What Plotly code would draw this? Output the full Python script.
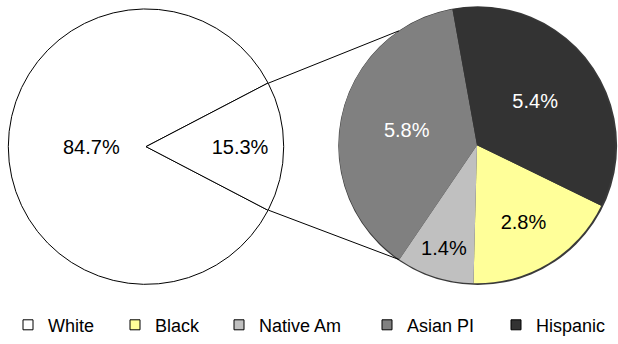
import math
import plotly.graph_objects as go

W, H = 618, 344

# ---- data ----
main_labels = ["White", "Other"]
main_values = [84.7, 15.3]
sub_labels = ["Black", "Native Am", "Asian PI", "Hispanic"]
sub_values = [2.8, 1.4, 5.8, 5.4]
legend_labels = ["White", "Black", "Native Am", "Asian PI", "Hispanic"]

# ---- styles ----
fill = {"White": "#FFFFFF", "Other": "#FFFFFF", "Black": "#FFFF99",
        "Native Am": "#C0C0C0", "Asian PI": "#808080", "Hispanic": "#333333"}
txt = {"White": "#000000", "Other": "#000000", "Black": "#000000",
       "Native Am": "#000000", "Asian PI": "#FFFFFF", "Hispanic": "#FFFFFF"}
FONT = "Arial, Liberation Sans, sans-serif"

# geometry in pixels
L_CX, L_CY, L_R = 146, 147.5, 138.5
R_CX, R_CY, R_R = 477, 146, 139
SUB_ROT = 116
BIG_LABEL_R = 0.39
leg_sym_x = [28, 135, 239, 387, 516]
LEG_Y = 327


def dom(cx, cy, r):
    return dict(x=[(cx - r) / W, (cx + r) / W], y=[1 - (cy + r) / H, 1 - (cy - r) / H])


def pt(cx, cy, r, ang):
    a = math.radians(ang)
    return (cx + r * math.sin(a)) / W, 1 - (cy - r * math.cos(a)) / H


total_main = sum(main_values)
other_ang = main_values[1] / total_main * 360
white_ang = main_values[0] / total_main * 360
main_rot = 90 + other_ang / 2

fig = go.Figure()

# outline / shadow of secondary pie
fig.add_trace(go.Pie(values=[sum(sub_values)], labels=["_outline"], domain=dom(R_CX + 0.7, R_CY + 0.5, R_R + 1.2),
                     marker=dict(colors=["#3a3a3a"], line=dict(width=0)), textinfo="none",
                     hoverinfo="skip", showlegend=False, sort=False))

fig.add_trace(go.Pie(
    values=main_values, labels=main_labels, domain=dom(L_CX, L_CY, L_R),
    sort=False, direction="clockwise", rotation=main_rot,
    marker=dict(colors=[fill[l] for l in main_labels], line=dict(color="#000000", width=1)),
    texttemplate=["", "%{value}%"], textposition="inside", insidetextorientation="horizontal",
    textfont=dict(family=FONT, size=20, color=[txt[l] for l in main_labels]),
    hoverinfo="skip", showlegend=False))

# label of the large slice, placed on its bisector
lx, ly = pt(L_CX, L_CY, L_R * BIG_LABEL_R, main_rot + white_ang / 2)
fig.add_annotation(x=lx, y=ly, xref="paper", yref="paper", text=f"{main_values[0]}%",
                   showarrow=False, xanchor="center", yanchor="middle",
                   font=dict(family=FONT, size=20, color=txt["White"]))

fig.add_trace(go.Pie(
    values=sub_values, labels=sub_labels, domain=dom(R_CX, R_CY, R_R),
    sort=False, direction="clockwise", rotation=SUB_ROT,
    marker=dict(colors=[fill[l] for l in sub_labels], line=dict(width=0)),
    texttemplate="%{value}%", textposition="inside", insidetextorientation="horizontal",
    textfont=dict(family=FONT, size=20, color=[txt[l] for l in sub_labels]),
    hoverinfo="skip", showlegend=False))

# connector lines
b_low = SUB_ROT + sum(sub_values[:2]) / sum(sub_values) * 360
b_up = 540 - b_low
x0, y0 = pt(L_CX, L_CY, L_R, 90 - other_ang / 2)
x1, y1 = pt(R_CX, R_CY, R_R, b_up)
fig.add_shape(type="line", xref="paper", yref="paper", x0=x0, y0=y0, x1=x1, y1=y1,
              line=dict(color="#000000", width=1))
x0, y0 = pt(L_CX, L_CY, L_R, 90 + other_ang / 2)
x1, y1 = pt(R_CX, R_CY, R_R, b_low)
fig.add_shape(type="line", xref="paper", yref="paper", x0=x0, y0=y0, x1=x1, y1=y1,
              line=dict(color="#000000", width=1))

# legend entries (one small legend per entry for placement)
layout_legends = {}
for i, lab in enumerate(legend_labels):
    key = "legend" if i == 0 else f"legend{i + 1}"
    fig.add_trace(go.Scatter(x=[None], y=[None], mode="markers", name=lab, legend=key,
                             marker=dict(symbol="square", size=10, color=fill[lab],
                                         line=dict(color="#000000", width=1)),
                             hoverinfo="skip"))
    layout_legends[key] = dict(x=(leg_sym_x[i] - 20) / W, xanchor="left", y=1 - LEG_Y / H,
                               yanchor="middle", bgcolor="rgba(0,0,0,0)", borderwidth=0,
                               font=dict(family=FONT, size=18, color="#000000"),
                               itemclick=False, itemdoubleclick=False)

fig.update_layout(width=W, height=H, margin=dict(l=0, r=0, t=0, b=0),
                  paper_bgcolor="#FFFFFF", plot_bgcolor="#FFFFFF",
                  xaxis=dict(visible=False), yaxis=dict(visible=False),
                  showlegend=True, **layout_legends)

fig.write_html("out.html", config={"displayModeBar": False})
